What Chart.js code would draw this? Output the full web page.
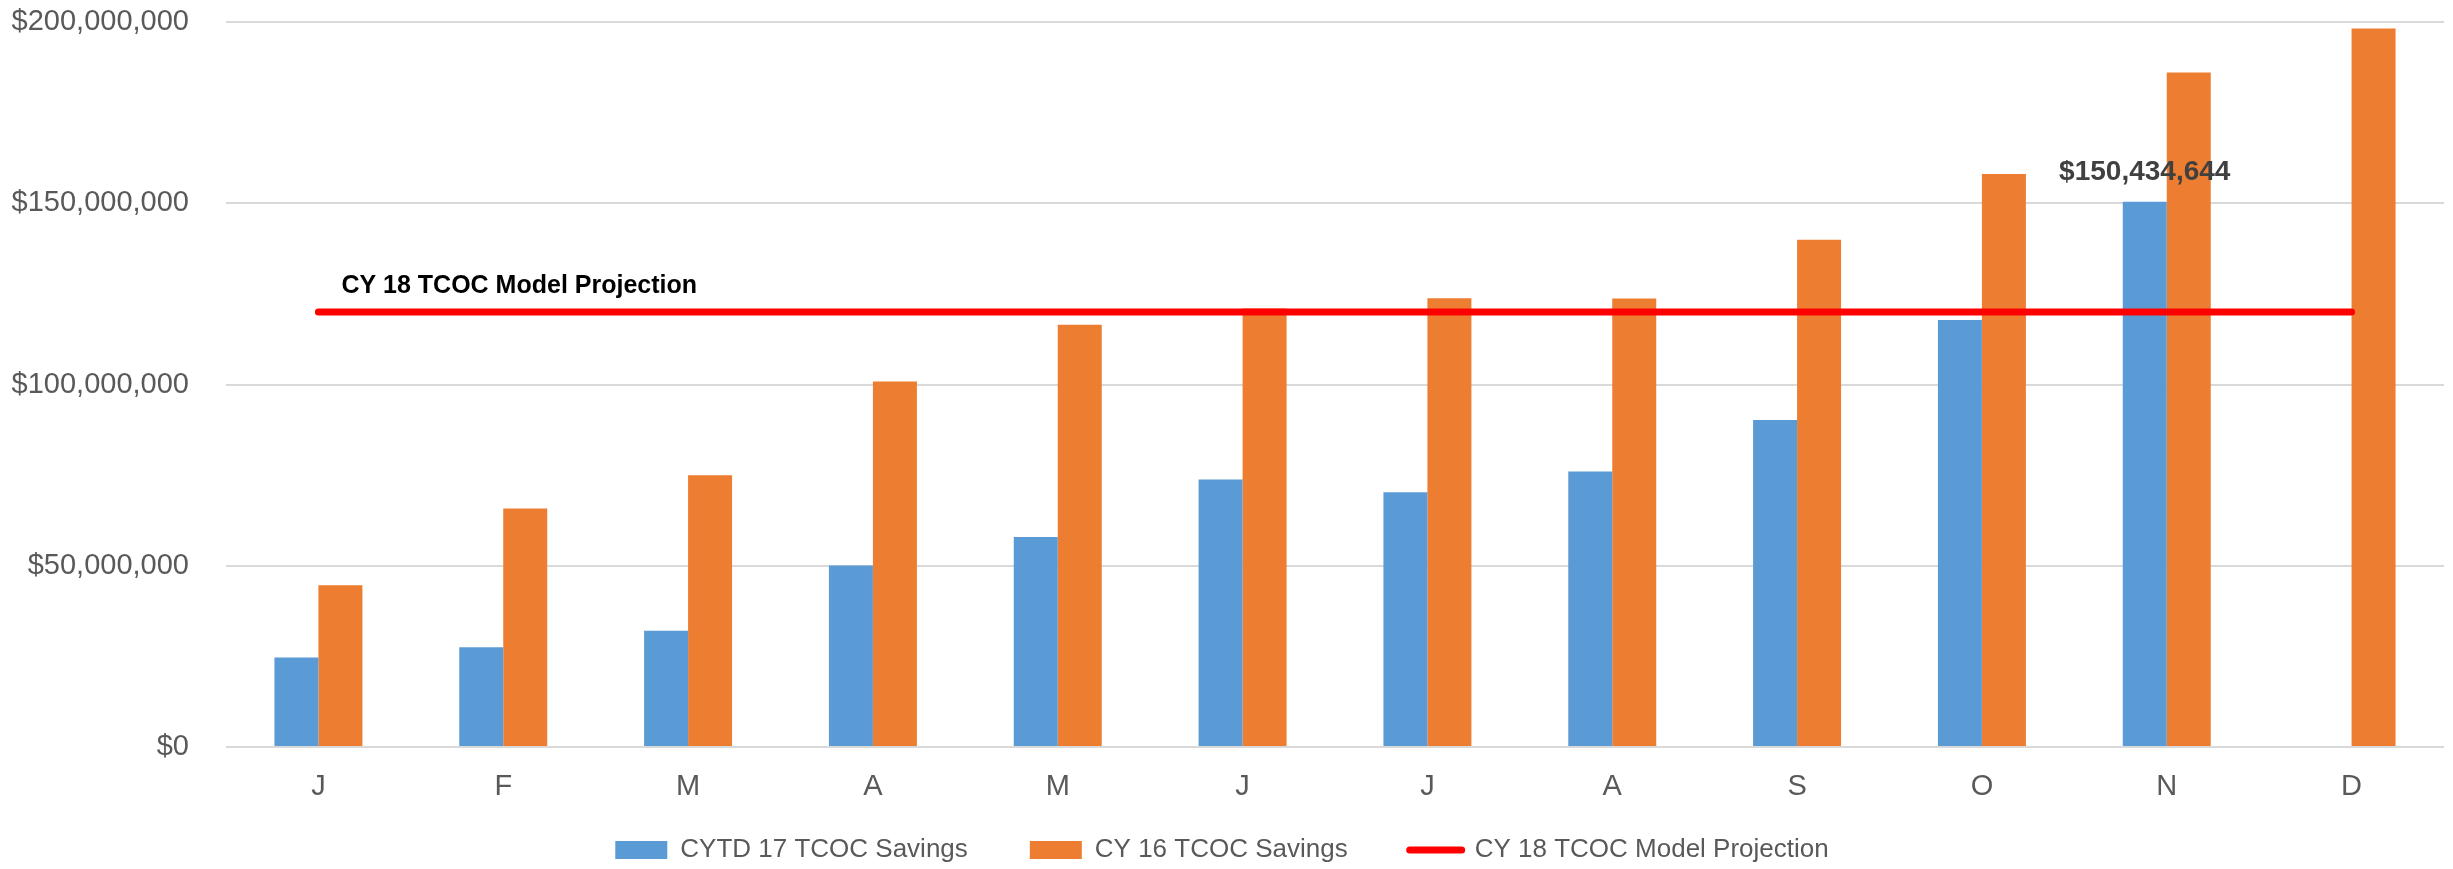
<!DOCTYPE html>
<html>
<head>
<meta charset="utf-8">
<title>TCOC Savings</title>
<script src="https://cdn.jsdelivr.net/npm/chart.js@4.4.1/dist/chart.umd.min.js"></script>
<style>
    html, body { margin: 0; padding: 0; background: #ffffff; }
    #wrap { width: 2453px; height: 869px; position: relative; }
</style>
</head>
<body>
<div id="wrap"><canvas id="savingsChart"></canvas></div>
<script>
// Données du graphique
const months = ['J', 'F', 'M', 'A', 'M', 'J', 'J', 'A', 'S', 'O', 'N', 'D'];
const cytd17Savings = [24700000, 27500000, 32100000, 50100000, 57900000, 73800000, 70300000, 76000000, 90200000, 117800000, 150434644, null];
const cy16Savings = [44600000, 65800000, 75000000, 100800000, 116500000, 121000000, 123800000, 123700000, 139900000, 158100000, 186100000, 198200000];
const cy18Projection = [120000000, 120000000, 120000000, 120000000, 120000000, 120000000, 120000000, 120000000, 120000000, 120000000, 120000000, 120000000];
const yTicks = [0, 50000000, 100000000, 150000000, 200000000];

const seriesNames = ['CYTD 17 TCOC Savings', 'CY 16 TCOC Savings', 'CY 18 TCOC Model Projection'];
const labelIndex = 10; // novembre : valeur affichée

const FONT = '"Liberation Sans", Arial, sans-serif';
const TICK_FONT = 29;
const LEGEND_FONT = 26;
const LEGEND_GAP = 62;
const LEGEND_TEXT_Y = 850; // centre vertical voulu pour la légende

function money(v) {
    return '$' + Math.round(v).toLocaleString('en-US');
}

// Textes dessinés sur le graphique (étiquette de valeur + titre de la ligne)
const textPlugin = {
    id: 'chartTexts',
    afterLayout(chart) {
        // Replacer la légende : l'espacement horizontal est large mais la ligne reste basse
        const legend = chart.legend;
        if (legend) {
            const h = legend.bottom - legend.top;
            legend.top = LEGEND_TEXT_Y - LEGEND_GAP - LEGEND_FONT / 2;
            legend.bottom = legend.top + h;
        }
    },
    afterDatasetsDraw(chart) {
        const ctx = chart.ctx;
        const bar = chart.getDatasetMeta(0).data[labelIndex];
        const line = chart.getDatasetMeta(2).data[0];
        ctx.save();
        ctx.textBaseline = 'middle';
        if (bar) {
            ctx.font = 'bold 28px ' + FONT;
            ctx.fillStyle = '#404040';
            ctx.textAlign = 'center';
            ctx.fillText(money(cytd17Savings[labelIndex]), bar.x, bar.y - 29);
        }
        if (line) {
            ctx.font = 'bold 25px ' + FONT;
            ctx.fillStyle = '#000000';
            ctx.textAlign = 'left';
            ctx.fillText(seriesNames[2], line.x + 23, line.y - 26);
        }
        ctx.restore();
    }
};

const chart = new Chart(document.getElementById('savingsChart'), {
    data: {
        labels: months,
        datasets: [
            {
                type: 'bar',
                label: seriesNames[0],
                data: cytd17Savings,
                backgroundColor: '#5B9BD5',
                categoryPercentage: 0.476,
                barPercentage: 1.0,
                order: 1
            },
            {
                type: 'bar',
                label: seriesNames[1],
                data: cy16Savings,
                backgroundColor: '#ED7D31',
                categoryPercentage: 0.476,
                barPercentage: 1.0,
                order: 1
            },
            {
                type: 'line',
                label: seriesNames[2],
                data: cy18Projection,
                borderColor: '#FF0000',
                backgroundColor: '#FF0000',
                borderWidth: 7,
                borderCapStyle: 'round',
                pointRadius: 0,
                fill: false,
                order: 0
            }
        ]
    },
    options: {
        responsive: true,
        maintainAspectRatio: false,
        animation: false,
        layout: { padding: { top: 22, right: 9, left: 0, bottom: -56.8 } },
        plugins: {
            tooltip: { enabled: false },
            legend: {
                position: 'bottom',
                labels: {
                    color: '#595959',
                    font: { family: FONT, size: LEGEND_FONT },
                    usePointStyle: true,
                    pointStyleWidth: 52,
                    boxHeight: 18,
                    padding: LEGEND_GAP,
                    generateLabels: function(chart) {
                        return chart.data.datasets.map(function(ds, i) {
                            const isLine = ds.type === 'line';
                            return {
                                text: ds.label,
                                fillStyle: isLine ? 'rgba(0,0,0,0)' : ds.backgroundColor,
                                strokeStyle: ds.borderColor || ds.backgroundColor,
                                lineWidth: isLine ? 7 : 0,
                                lineCap: 'round',
                                pointStyle: isLine ? 'line' : 'rect',
                                fontColor: '#595959',
                                hidden: false,
                                datasetIndex: i
                            };
                        });
                    }
                }
            }
        },
        scales: {
            x: {
                grid: { display: false, drawTicks: false },
                border: { display: false },
                ticks: {
                    color: '#595959',
                    font: { family: FONT, size: TICK_FONT },
                    padding: 23
                }
            },
            y: {
                min: 0,
                max: 200000000,
                afterBuildTicks: function(scale) {
                    scale.ticks = yTicks.map(v => ({ value: v }));
                },
                grid: { color: '#D9D9D9', lineWidth: 2, drawTicks: false },
                border: { display: false },
                ticks: {
                    color: '#595959',
                    font: { family: FONT, size: TICK_FONT },
                    padding: 37,
                    callback: function(value) { return money(value); }
                },
                afterFit: function(scale) {
                    scale.width = 226;
                    scale.paddingTop = 0;
                    scale.paddingBottom = 0;
                }
            }
        }
    },
    plugins: [textPlugin]
});
</script>
</body>
</html>
